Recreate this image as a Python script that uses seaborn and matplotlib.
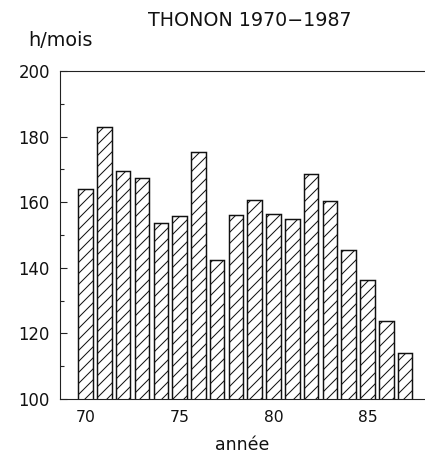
import numpy as np
import pandas as pd
import matplotlib
matplotlib.use("Agg")
import matplotlib.pyplot as plt
from matplotlib.ticker import MultipleLocator, FixedLocator, FixedFormatter
import seaborn as sns

# ---- data ----
years = [1970, 1971, 1972, 1973, 1974, 1975, 1976, 1977, 1978,
         1979, 1980, 1981, 1982, 1983, 1984, 1985, 1986, 1987]
hours = [164, 183, 169.5, 167.5, 153.8, 155.7, 175.3, 142.3, 156.2,
         160.8, 156.3, 154.9, 168.5, 160.5, 145.5, 136.2, 123.9, 114.1]
xtick_pos = [1970, 1975, 1980, 1985]
xtick_labels = ["70", "75", "80", "85"]
title = "THONON 1970\u22121987"
ylabel = "h/mois"
xlabel = "ann\u00e9e"

DPI = 132
W, H = 425, 454

sns.set_theme(style="white")
plt.rcParams["font.family"] = ["DejaVu Sans"]
plt.rcParams["hatch.linewidth"] = 0.55
plt.rcParams["hatch.color"] = "black"

fig = plt.figure(figsize=(W / DPI, H / DPI), dpi=DPI)
ax = fig.add_axes([60 / W, 55 / H, 365 / W, (399 - 71) / H])

df = pd.DataFrame({"year": years, "hours": hours})
sns.barplot(data=df, x="year", y="hours", native_scale=True, width=0.77,
            color="white", edgecolor="#111111", linewidth=0.8,
            hatch="////", saturation=1, ax=ax, errorbar=None)

ax.set_ylim(100, 200)
ax.set_xlim(1968.64, 1988.06)

ax.yaxis.set_major_locator(MultipleLocator(20))
ax.yaxis.set_minor_locator(MultipleLocator(10))
ax.xaxis.set_major_locator(FixedLocator(xtick_pos))
ax.xaxis.set_major_formatter(FixedFormatter(xtick_labels))
ax.xaxis.set_minor_locator(FixedLocator([]))

ax.tick_params(axis="y", which="major", direction="in", length=3.8, width=0.6,
               pad=5.5, labelsize=9.0, color="#222222", left=True, labelcolor="#111111")
ax.tick_params(axis="y", which="minor", direction="in", length=2.2, width=0.6,
               left=True, color="#222222")
ax.tick_params(axis="x", which="both", length=0, pad=6, labelsize=8.5,
               labelcolor="#111111")

for side in ["left", "top", "bottom"]:
    ax.spines[side].set_visible(True)
    ax.spines[side].set_linewidth(0.6)
    ax.spines[side].set_color("#222222")
ax.spines["right"].set_visible(False)

ax.set_xlabel(xlabel, fontsize=9.5, color="#111111", labelpad=6)
ax.set_ylabel("")
fig.text(61 / W, 1 - 40 / H, ylabel, ha="center", va="center",
         fontsize=10.5, color="#111111")
fig.text(250 / W, 1 - 20 / H, title, ha="center", va="center",
         fontsize=10.4, color="#111111")

fig.savefig("out.png", dpi=DPI, facecolor="white")
